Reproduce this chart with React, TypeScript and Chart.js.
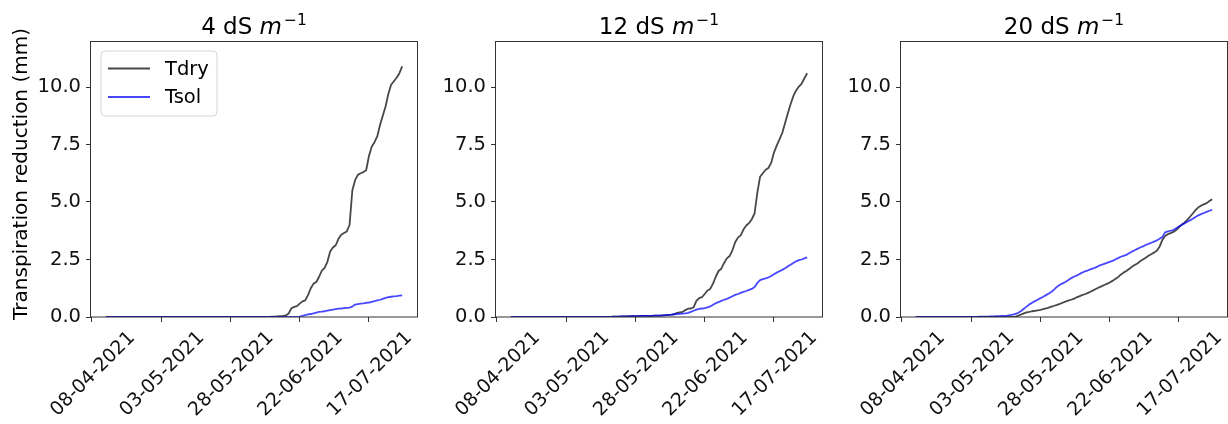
import { useEffect, useRef } from "react";
import { Chart, registerables } from "chart.js";

Chart.register(...registerables);

const FONT = '"DejaVu Sans", "Liberation Sans", sans-serif';

// Daily records start on this date; x values are days since it.
const firstDay = "13-04-2021";
const xTickLabels = ["08-04-2021", "03-05-2021", "28-05-2021", "22-06-2021", "17-07-2021"];
const yTicks = [0, 2.5, 5, 7.5, 10];
const salinityLevels = ["4", "12", "20"];
const seriesNames = ["Tdry", "Tsol"];

// Cumulative transpiration reduction (mm), 13-04-2021 .. 29-07-2021
const tdry4 = [
  0, 0, 0, 0, 0, 0, 0, 0, 0, 0,
  0, 0, 0, 0, 0, 0, 0, 0, 0, 0,
  0, 0, 0, 0, 0, 0, 0, 0, 0, 0,
  0, 0, 0, 0, 0, 0, 0, 0, 0, 0,
  0, 0, 0, 0, 0, 0, 0, 0, 0, 0,
  0, 0, 0, 0, 0, 0, 0, 0, 0, 0,
  0.01, 0.02, 0.03, 0.04, 0.05, 0.07, 0.15, 0.38, 0.44, 0.47,
  0.58, 0.68, 0.72, 0.95, 1.25, 1.45, 1.52, 1.75, 2.02, 2.14,
  2.4, 2.85, 3.02, 3.12, 3.4, 3.58, 3.65, 3.72, 4.0, 5.5,
  5.95, 6.18, 6.25, 6.3, 6.38, 7.0, 7.4, 7.6, 7.85, 8.35,
  8.75, 9.15, 9.7, 10.1, 10.25, 10.4, 10.6, 10.9,
];
const tsol4 = [
  0, 0, 0, 0, 0, 0, 0, 0, 0, 0,
  0, 0, 0, 0, 0, 0, 0, 0, 0, 0,
  0, 0, 0, 0, 0, 0, 0, 0, 0, 0,
  0, 0, 0, 0, 0, 0, 0, 0, 0, 0,
  0, 0, 0, 0, 0, 0, 0, 0, 0, 0,
  0, 0, 0, 0, 0, 0, 0, 0, 0, 0,
  0, 0, 0, 0, 0, 0, 0, 0, 0, 0,
  0.02, 0.05, 0.08, 0.11, 0.13, 0.16, 0.19, 0.22, 0.23, 0.25,
  0.28, 0.3, 0.32, 0.34, 0.36, 0.37, 0.39, 0.4, 0.41, 0.45,
  0.54, 0.56, 0.58, 0.59, 0.61, 0.63, 0.66, 0.69, 0.72, 0.75,
  0.79, 0.83, 0.86, 0.88, 0.9, 0.91, 0.93, 0.94,
];
const tdry12 = [
  0, 0, 0, 0, 0, 0, 0, 0, 0, 0,
  0, 0, 0, 0, 0, 0, 0, 0, 0, 0,
  0, 0, 0, 0, 0, 0, 0, 0, 0, 0,
  0, 0, 0, 0, 0, 0, 0, 0.01, 0.02, 0.02,
  0.03, 0.03, 0.03, 0.04, 0.04, 0.04, 0.04, 0.05, 0.05, 0.05,
  0.05, 0.05, 0.06, 0.06, 0.06, 0.07, 0.08, 0.09, 0.1, 0.12,
  0.18, 0.2, 0.22, 0.3, 0.36, 0.37, 0.42, 0.7, 0.82, 0.86,
  1.0, 1.15, 1.22, 1.45, 1.75, 2.0, 2.1, 2.35, 2.55, 2.65,
  2.9, 3.25, 3.45, 3.55, 3.8, 3.98, 4.08, 4.25, 4.5, 5.4,
  6.1, 6.25, 6.4, 6.48, 6.7, 7.15, 7.45, 7.72, 8.0, 8.42,
  8.85, 9.25, 9.6, 9.85, 10.02, 10.15, 10.38, 10.6,
];
const tsol12 = [
  0, 0, 0, 0, 0, 0, 0, 0, 0, 0,
  0, 0, 0, 0, 0, 0, 0, 0, 0, 0,
  0, 0, 0, 0, 0, 0, 0, 0, 0, 0,
  0, 0, 0, 0, 0, 0, 0, 0.01, 0.02, 0.02,
  0.03, 0.03, 0.03, 0.04, 0.04, 0.04, 0.04, 0.05, 0.05, 0.05,
  0.05, 0.05, 0.06, 0.06, 0.06, 0.07, 0.08, 0.09, 0.1, 0.12,
  0.13, 0.14, 0.15, 0.16, 0.18, 0.22, 0.27, 0.32, 0.35, 0.37,
  0.39, 0.42, 0.46, 0.53, 0.6, 0.65, 0.7, 0.75, 0.79, 0.84,
  0.9, 0.96, 1.0, 1.05, 1.09, 1.13, 1.18, 1.22, 1.3, 1.48,
  1.6, 1.65, 1.68, 1.72, 1.78, 1.86, 1.93, 1.99, 2.05, 2.12,
  2.2, 2.27, 2.35, 2.42, 2.47, 2.5, 2.55, 2.59,
];
const tdry20 = [
  0, 0, 0, 0, 0, 0, 0, 0, 0, 0,
  0, 0, 0, 0, 0, 0, 0, 0, 0, 0,
  0, 0, 0, 0, 0, 0, 0, 0, 0, 0,
  0, 0, 0, 0, 0, 0, 0.02, 0.06, 0.11, 0.16,
  0.2, 0.22, 0.25, 0.27, 0.29, 0.31, 0.34, 0.37, 0.41, 0.45,
  0.49, 0.53, 0.57, 0.62, 0.67, 0.71, 0.75, 0.79, 0.85, 0.9,
  0.95, 0.99, 1.04, 1.1, 1.16, 1.22, 1.28, 1.33, 1.39, 1.44,
  1.5, 1.57, 1.65, 1.73, 1.84, 1.93, 2.0, 2.09, 2.18, 2.26,
  2.33, 2.42, 2.5, 2.58, 2.66, 2.73, 2.8, 2.88, 3.05, 3.35,
  3.52, 3.6, 3.65, 3.7, 3.78, 3.9, 4.02, 4.1, 4.22, 4.36,
  4.5, 4.65, 4.77, 4.84, 4.9, 4.95, 5.04, 5.12,
];
const tsol20 = [
  0, 0, 0, 0, 0, 0, 0, 0, 0, 0,
  0, 0, 0, 0, 0, 0, 0, 0, 0, 0,
  0, 0, 0, 0.01, 0.01, 0.02, 0.02, 0.03, 0.03, 0.04,
  0.04, 0.05, 0.05, 0.06, 0.08, 0.1, 0.14, 0.18, 0.26, 0.36,
  0.45, 0.55, 0.62, 0.69, 0.75, 0.82, 0.88, 0.95, 1.02, 1.1,
  1.2, 1.32, 1.4, 1.46, 1.52, 1.6, 1.68, 1.75, 1.8, 1.86,
  1.93, 1.98, 2.02, 2.07, 2.11, 2.16, 2.22, 2.27, 2.31, 2.35,
  2.4, 2.44, 2.5, 2.56, 2.62, 2.66, 2.7, 2.77, 2.84, 2.9,
  2.96, 3.02, 3.07, 3.13, 3.18, 3.23, 3.28, 3.33, 3.4, 3.48,
  3.68, 3.72, 3.75, 3.78, 3.86, 3.94, 4.0, 4.07, 4.14, 4.2,
  4.27, 4.35, 4.42, 4.47, 4.52, 4.57, 4.62, 4.66,
];

const tdrySeries = [tdry4, tdry12, tdry20];
const tsolSeries = [tsol4, tsol12, tsol20];

const COLORS = { Tdry: "rgba(0,0,0,0.72)", Tsol: "rgba(0,0,255,0.72)" };

const DAY_MS = 86400000;
function parseDmy(s: string) {
  const [d, m, y] = s.split("-").map(Number);
  return Date.UTC(y, m - 1, d);
}
const startMs = parseDmy(firstDay);
const tickDays = xTickLabels.map((l) => Math.round((parseDmy(l) - startMs) / DAY_MS));

// Panel geometry in page pixels
const CANVAS_H = 424;
const PLOT_W = 326;
const PLOT_TOP = 41;
const PLOT_BOTTOM = 317;
const TICK_FONT = 19.5;
const XTICK_FONT = 19;
const panelsLayout = [
  { left: 0, axisW: 91, padRight: 3 },
  { left: 420, axisW: 76, padRight: 3 },
  { left: 825, axisW: 76, padRight: 1 },
];

const decorPlugin = {
  id: "decor",
  afterDatasetsDraw(chart: any, _args: any, opts: any) {
    const { ctx, chartArea } = chart;
    const { left, top, right, bottom } = chartArea;
    ctx.save();
    // axes frame
    ctx.strokeStyle = "#333";
    ctx.lineWidth = 1;
    ctx.strokeRect(Math.round(left) - 0.5, Math.round(top) + 0.5, Math.round(right - left) + 1, Math.round(bottom - top) - 0.5);

    // panel title: "<level> dS m^-1"
    const cx = (left + right) / 2;
    const base = 33.5;
    const main = `${opts.level} dS `;
    ctx.fillStyle = "#000";
    ctx.textBaseline = "alphabetic";
    ctx.textAlign = "left";
    ctx.font = `23px ${FONT}`;
    const w1 = ctx.measureText(main).width;
    ctx.font = `italic 23px ${FONT}`;
    const w2 = ctx.measureText("m").width;
    ctx.font = `15.5px ${FONT}`;
    const w3 = ctx.measureText("\u22121").width;
    let x = cx - (w1 + w2 + w3 + 2) / 2;
    ctx.font = `23px ${FONT}`;
    ctx.fillText(main, x, base);
    x += w1;
    ctx.font = `italic 23px ${FONT}`;
    ctx.fillText("m", x, base);
    x += w2 + 2;
    ctx.font = `15.5px ${FONT}`;
    ctx.fillText("\u22121", x, base - 8.5);

    if (opts.yTitle) {
      ctx.save();
      ctx.translate(21.5, 174);
      ctx.rotate(-Math.PI / 2);
      ctx.font = `20px ${FONT}`;
      ctx.textAlign = "center";
      ctx.textBaseline = "middle";
      ctx.fillStyle = "#000";
      ctx.fillText(opts.yTitle, 0, 0);
      ctx.restore();
    }

    if (opts.legend) {
      const bx = left + 10, by = top + 10, bw = 116, bh = 65, r = 4;
      ctx.beginPath();
      ctx.moveTo(bx + r, by);
      ctx.arcTo(bx + bw, by, bx + bw, by + bh, r);
      ctx.arcTo(bx + bw, by + bh, bx, by + bh, r);
      ctx.arcTo(bx, by + bh, bx, by, r);
      ctx.arcTo(bx, by, bx + bw, by, r);
      ctx.closePath();
      ctx.fillStyle = "rgba(255,255,255,0.8)";
      ctx.fill();
      ctx.strokeStyle = "#d6d6d6";
      ctx.lineWidth = 1;
      ctx.stroke();
      seriesNames.forEach((name, i) => {
        const ly = by + 17.5 + i * 28.5;
        ctx.beginPath();
        ctx.moveTo(bx + 7, ly);
        ctx.lineTo(bx + 49, ly);
        ctx.strokeStyle = (COLORS as any)[name];
        ctx.lineWidth = 1.8;
        ctx.stroke();
        ctx.font = `${TICK_FONT}px ${FONT}`;
        ctx.fillStyle = "#000";
        ctx.textAlign = "left";
        ctx.textBaseline = "middle";
        ctx.fillText(name, bx + 64, ly + 1);
      });
    }
    ctx.restore();
  },
};

function Panel({ index }: { index: number }) {
  const ref = useRef<HTMLCanvasElement>(null);
  const { left, axisW, padRight } = panelsLayout[index];
  const width = axisW + PLOT_W + padRight;

  useEffect(() => {
    const canvas = ref.current;
    if (!canvas) return;
    const tdry = tdrySeries[index];
    const tsol = tsolSeries[index];
    const span = tdry.length - 1;
    const chart = new Chart(canvas, {
      type: "line",
      data: {
        datasets: [
          {
            label: seriesNames[1],
            data: tsol.map((y, i) => ({ x: i, y })),
            borderColor: COLORS.Tsol,
            borderWidth: 1.8,
            pointRadius: 0,
            tension: 0,
            borderJoinStyle: "round",
          },
          {
            label: seriesNames[0],
            data: tdry.map((y, i) => ({ x: i, y })),
            borderColor: COLORS.Tdry,
            borderWidth: 1.8,
            pointRadius: 0,
            tension: 0,
            borderJoinStyle: "round",
          },
        ],
      },
      options: {
        animation: false,
        responsive: false,
        devicePixelRatio: 1,
        events: [],
        layout: {
          autoPadding: false,
          padding: { left: 0, right: padRight, top: PLOT_TOP, bottom: 0 },
        },
        plugins: {
          legend: { display: false },
          tooltip: { enabled: false },
          title: { display: false },
          decor: {
            level: salinityLevels[index],
            legend: index === 0,
            yTitle: index === 0 ? "Transpiration reduction (mm)" : "",
          },
        } as any,
        scales: {
          x: {
            type: "linear",
            min: -0.05 * span,
            max: span + 0.05 * span,
            afterBuildTicks: (s: any) => {
              s.ticks = tickDays.map((v) => ({ value: v }));
            },
            afterFit: (s: any) => {
              s.height = CANVAS_H - PLOT_BOTTOM;
              s.paddingLeft = 0;
              s.paddingRight = 0;
            },
            ticks: {
              autoSkip: false,
              minRotation: 45,
              maxRotation: 45,
              padding: 5,
              labelOffset: 40,
              color: "#111",
              font: { family: FONT, size: XTICK_FONT },
              callback: (v: any) => {
                const k = tickDays.indexOf(Math.round(Number(v)));
                return k >= 0 ? xTickLabels[k] : "";
              },
            },
            grid: { drawOnChartArea: false, drawTicks: true, tickLength: 5, tickColor: "#333", tickWidth: 1 },
            border: { display: false },
          },
          y: {
            type: "linear",
            min: 0,
            max: 12,
            afterBuildTicks: (s: any) => {
              s.ticks = yTicks.map((v) => ({ value: v }));
            },
            afterFit: (s: any) => {
              s.width = axisW;
              s.paddingTop = 0;
              s.paddingBottom = 0;
            },
            ticks: {
              padding: 5,
              color: "#111",
              font: { family: FONT, size: TICK_FONT },
              callback: (v: any) => Number(v).toFixed(1),
            },
            grid: { drawOnChartArea: false, drawTicks: true, tickLength: 5, tickColor: "#333", tickWidth: 1 },
            border: { display: false },
          },
        },
      },
      plugins: [decorPlugin],
    } as any);
    return () => chart.destroy();
  }, [index]);

  return (
    <canvas
      ref={ref}
      width={width}
      height={CANVAS_H}
      style={{ position: "absolute", left, top: 0, width, height: CANVAS_H }}
    />
  );
}

export default function App() {
  return (
    <div
      style={{
        position: "fixed",
        left: 0,
        top: 0,
        width: 1228,
        height: CANVAS_H,
        background: "#fff",
        overflow: "hidden",
      }}
    >
      {salinityLevels.map((_, i) => (
        <Panel key={i} index={i} />
      ))}
    </div>
  );
}
